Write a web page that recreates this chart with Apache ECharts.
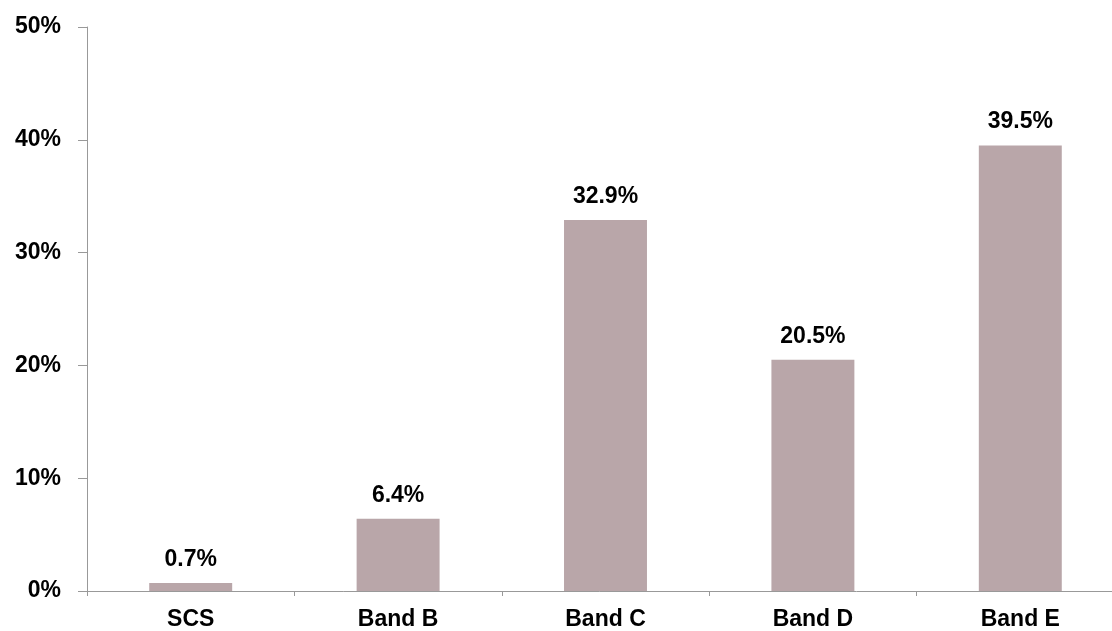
<!DOCTYPE html>
<html>
<head>
<meta charset="utf-8">
<script src="https://cdn.jsdelivr.net/npm/echarts@6/dist/echarts.min.js"></script>
<style>
  html, body { margin: 0; padding: 0; background: #fff; }
  #chart { width: 1112px; height: 631px; }
</style>
</head>
<body>
<div id="chart"></div>
<script>
// categories and values (percent)
var categories = ['SCS', 'Band B', 'Band C', 'Band D', 'Band E'];
var shares = [0.7, 6.4, 32.9, 20.5, 39.5];

var chart = echarts.init(document.getElementById('chart'));
chart.setOption({
    animation: false,
    grid: {left: 87, width: 1037, top: 27, bottom: 40, outerBoundsMode: 'none'},
    xAxis: {
        type: 'category',
        data: categories,
        axisLine: {lineStyle: {color: '#999', width: 1}},
        axisTick: {show: true, length: 5, lineStyle: {color: '#999'}},
        axisLabel: {
            color: '#000', fontFamily: 'Liberation Sans', fontWeight: 'bold',
            fontSize: 23, margin: 17
        }
    },
    yAxis: {
        type: 'value',
        min: 0, max: 50, interval: 10,
        axisLine: {show: true, lineStyle: {color: '#999', width: 1}},
        axisTick: {show: true, length: 9, lineStyle: {color: '#999'}},
        splitLine: {show: false},
        axisLabel: {
            formatter: '{value}%',
            color: '#000', fontFamily: 'Liberation Sans', fontWeight: 'bold',
            fontSize: 23, margin: 26
        }
    },
    series: [{
        type: 'bar',
        data: shares,
        barWidth: '40%',
        itemStyle: {color: '#B9A6A9'},
        label: {
            show: true, position: 'top', distance: 12,
            formatter: function(p){ return p.value.toFixed(1) + '%'; },
            color: '#000', fontFamily: 'Liberation Sans', fontWeight: 'bold', fontSize: 23
        }
    }]
});
</script>
</body>
</html>
